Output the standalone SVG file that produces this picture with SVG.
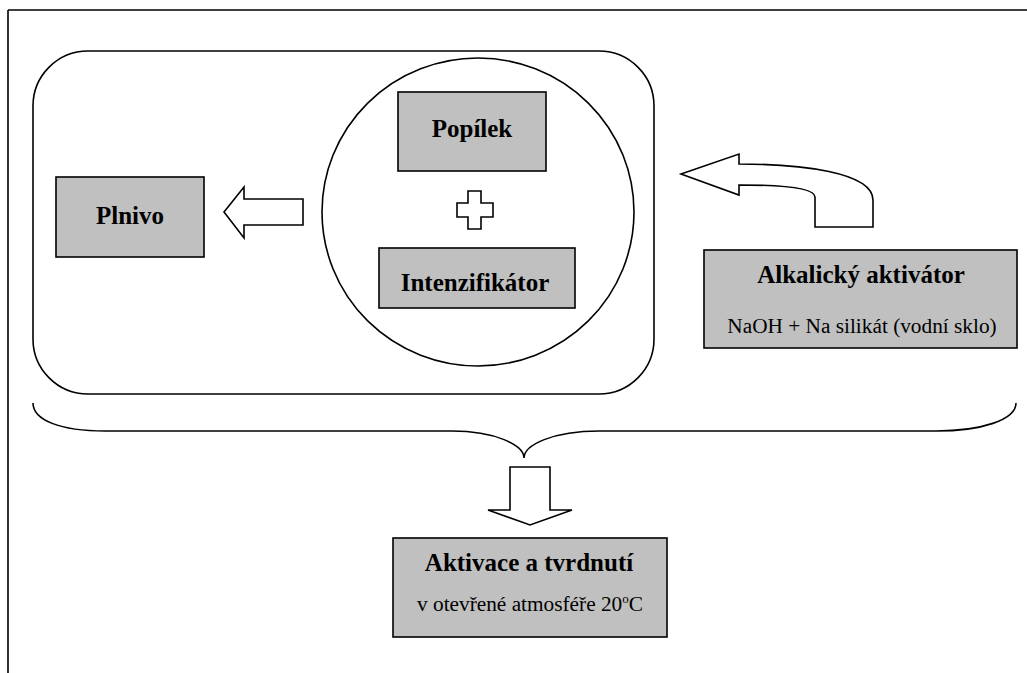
<svg xmlns="http://www.w3.org/2000/svg" width="1027" height="673" viewBox="0 0 1027 673">
<style>
.ln{fill:none;stroke:#000;stroke-width:1.6}
.box{fill:#c0c0c0;stroke:#000;stroke-width:1.6}
.arr{fill:#fff;stroke:#000;stroke-width:1.6;stroke-linejoin:miter}
.t{font-weight:bold;font-size:25px;text-anchor:middle;fill:#000}
.s{font-size:21.3px;text-anchor:middle;fill:#000}
</style>
<rect width="1027" height="673" fill="#fff"/>
<g id="frame">
<path class="ln" d="M8,10 H1027 M8,10 V673" stroke-width="2"/>
</g>
<g id="group">
<rect class="ln" x="33" y="51" width="621" height="343" rx="55" ry="55"/>
</g>
<g id="circle">
<ellipse class="ln" cx="478" cy="212" rx="156" ry="154"/>
</g>
<g font-family="Liberation Serif, DejaVu Serif, Times New Roman, serif">
<g id="popilek">
<rect class="box" x="398" y="92" width="148" height="79"/>
<text class="t" x="472" y="137">Popílek</text>
</g>
<g id="intenzifikator">
<rect class="box" x="379" y="248" width="196" height="60"/>
<text class="t" x="475" y="291">Intenzifikátor</text>
</g>
<g id="plnivo">
<rect class="box" x="56" y="177" width="148" height="80"/>
<text class="t" x="130" y="224">Plnivo</text>
</g>
<g id="alkalicky">
<rect class="box" x="704" y="250" width="313" height="98"/>
<text class="t" x="861" y="283">Alkalický aktivátor</text>
<text class="s" x="862" y="333">NaOH + Na silikát (vodní sklo)</text>
</g>
<g id="aktivace">
<rect class="box" x="393" y="538" width="274" height="99"/>
<text class="t" x="529" y="571">Aktivace a tvrdnutí</text>
<text class="s" x="530" y="611">v otevřené atmosféře 20<tspan font-size="13" dy="-8">o</tspan><tspan dy="8">C</tspan></text>
</g>
</g>
<g id="plus">
<path class="arr" d="M468,191 H481 V203 H493 V217 H481 V229 H468 V217 H457 V203 H468 Z"/>
</g>
<g id="connectors">
<path class="arr" d="M224,212 L244,187 V199 H303 V225 H244 V238 Z"/>
<path class="arr" d="M681,174 L739,154 V164 C800,164 873,172 873,200 V227 H815 V197 C815,189 790,185 739,185 V195 Z"/>
<path class="ln" d="M33,403 C33,420 60,431 105,431 L452,431 C495,431 524,445 524,458 C524,445 553,431 599,431 L936,431 C981,431 1016,420 1016,403"/>
<path class="arr" d="M510,467 H550 V510 H572 L530,525 L488,510 H510 Z"/>
</g>
</svg>
